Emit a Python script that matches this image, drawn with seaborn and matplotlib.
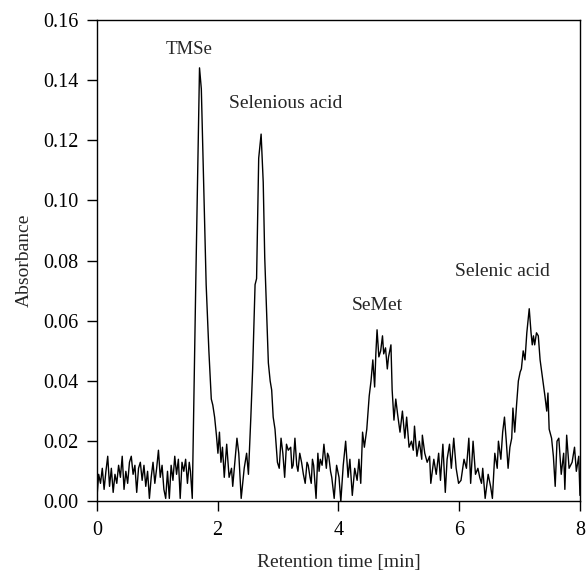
import numpy as np
import pandas as pd
import matplotlib
matplotlib.use('Agg')
import matplotlib.pyplot as plt
import seaborn as sb

# retention time [min] / absorbance in segments
t_base = [0.00, 0.03, 0.06, 0.09, 0.12, 0.15, 0.18, 0.21, 0.24, 0.27, 0.30, 0.33, 0.36, 0.39,
          0.42, 0.45, 0.48, 0.51, 0.54, 0.57, 0.60, 0.63, 0.66, 0.69, 0.72, 0.75, 0.78, 0.81,
          0.84, 0.87, 0.90, 0.93, 0.96, 0.99, 1.02, 1.05, 1.08, 1.11, 1.14, 1.17, 1.20, 1.23,
          1.26, 1.29, 1.32, 1.35, 1.38, 1.41, 1.44, 1.47, 1.50, 1.53, 1.55, 1.58]
a_base = [0.001, 0.009, 0.006, 0.011, 0.004, 0.010, 0.015, 0.005, 0.011, 0.003, 0.009, 0.006, 0.012, 0.008,
          0.015, 0.004, 0.010, 0.006, 0.013, 0.015, 0.009, 0.012, 0.003, 0.011, 0.013, 0.007, 0.012, 0.005,
          0.010, 0.001, 0.008, 0.013, 0.006, 0.011, 0.017, 0.008, 0.012, 0.004, 0.001, 0.010, 0.001, 0.012,
          0.007, 0.015, 0.009, 0.014, 0.001, 0.013, 0.010, 0.014, 0.006, 0.013, 0.010, 0.001]

t_tmse = [1.64, 1.70, 1.73, 1.755, 1.81, 1.855, 1.87, 1.895, 1.92, 1.95, 1.98,
          2.005, 2.03, 2.055, 2.08, 2.11, 2.15, 2.19, 2.23, 2.25, 2.28, 2.32, 2.35, 2.39,
          2.44, 2.48, 2.51, 2.55]
a_tmse = [0.075, 0.144, 0.137, 0.117, 0.072, 0.050, 0.044, 0.034, 0.032, 0.028, 0.022,
          0.016, 0.023, 0.013, 0.018, 0.008, 0.019, 0.008, 0.011, 0.005, 0.012, 0.021, 0.016, 0.001,
          0.011, 0.016, 0.009, 0.028]

t_selenious = [2.58, 2.62, 2.645, 2.68, 2.72, 2.755, 2.78, 2.84, 2.87, 2.895, 2.92, 2.95, 2.99]
a_selenious = [0.044, 0.072, 0.074, 0.114, 0.122, 0.106, 0.081, 0.046, 0.040, 0.037, 0.028, 0.024, 0.013]

t_valley = [3.02, 3.05, 3.08, 3.11, 3.14, 3.17, 3.21, 3.23, 3.25, 3.28, 3.31, 3.33, 3.36, 3.39,
            3.42, 3.45, 3.48, 3.50, 3.53, 3.55, 3.57, 3.59, 3.63, 3.66, 3.68, 3.70, 3.73, 3.76,
            3.80, 3.82, 3.84, 3.87, 3.89, 3.93, 3.97, 4.01, 4.04, 4.08, 4.12, 4.16, 4.19, 4.23,
            4.27, 4.31, 4.34, 4.37]
a_valley = [0.011, 0.021, 0.016, 0.008, 0.019, 0.017, 0.018, 0.011, 0.012, 0.021, 0.012, 0.010, 0.016, 0.013,
            0.009, 0.006, 0.013, 0.012, 0.008, 0.006, 0.014, 0.012, 0.001, 0.016, 0.010, 0.014, 0.012, 0.019,
            0.011, 0.016, 0.015, 0.010, 0.008, 0.001, 0.012, 0.008, 0.000, 0.012, 0.020, 0.008, 0.014, 0.002,
            0.011, 0.007, 0.014, 0.006]

t_semet = [4.40, 4.43, 4.47, 4.51, 4.54, 4.57, 4.60, 4.62, 4.64, 4.67, 4.70, 4.73, 4.75, 4.78,
           4.81, 4.83, 4.87, 4.89, 4.92, 4.95, 4.98, 5.02, 5.06, 5.10, 5.13, 5.17, 5.21, 5.24,
           5.26, 5.30, 5.34, 5.38, 5.39, 5.43, 5.47, 5.51, 5.53, 5.58, 5.62, 5.66, 5.69, 5.73,
           5.77, 5.80, 5.84, 5.87, 5.91, 5.95, 5.99, 6.03, 6.08, 6.12]
a_semet = [0.023, 0.018, 0.024, 0.035, 0.040, 0.047, 0.038, 0.049, 0.057, 0.048, 0.050, 0.055, 0.049, 0.051,
           0.044, 0.048, 0.052, 0.037, 0.027, 0.034, 0.029, 0.023, 0.030, 0.021, 0.028, 0.018, 0.020, 0.017,
           0.025, 0.015, 0.020, 0.014, 0.022, 0.016, 0.013, 0.015, 0.006, 0.014, 0.009, 0.016, 0.007, 0.019,
           0.003, 0.014, 0.019, 0.011, 0.021, 0.011, 0.006, 0.007, 0.014, 0.011]

t_selenic = [6.16, 6.19, 6.23, 6.27, 6.31, 6.34, 6.37, 6.39, 6.43, 6.48, 6.52, 6.55, 6.59, 6.63,
             6.65, 6.69, 6.72, 6.75, 6.78, 6.81, 6.84, 6.87, 6.89, 6.92, 6.95, 6.98, 7.01, 7.03,
             7.06, 7.09, 7.12, 7.16, 7.19, 7.21, 7.23, 7.25, 7.28, 7.31, 7.34, 7.38, 7.42, 7.45,
             7.47, 7.49, 7.53, 7.56, 7.59, 7.62, 7.65, 7.69, 7.73, 7.75, 7.78, 7.82, 7.87, 7.91,
             7.94, 7.98, 8.00]
a_selenic = [0.021, 0.006, 0.020, 0.009, 0.011, 0.008, 0.006, 0.011, 0.001, 0.009, 0.005, 0.001, 0.016, 0.011,
             0.020, 0.014, 0.023, 0.028, 0.020, 0.011, 0.018, 0.021, 0.031, 0.023, 0.032, 0.040, 0.043, 0.044,
             0.050, 0.047, 0.056, 0.064, 0.056, 0.052, 0.055, 0.052, 0.056, 0.055, 0.047, 0.041, 0.035, 0.030,
             0.036, 0.024, 0.021, 0.015, 0.005, 0.020, 0.021, 0.009, 0.016, 0.004, 0.022, 0.011, 0.013, 0.018,
             0.010, 0.015, 0.002]

peak_names = ['TMSe', 'Selenious acid', 'SeMet', 'Selenic acid']
label_t = [1.52, 3.12, 4.65, 6.72]
label_a = [0.150, 0.132, 0.065, 0.0765]
label_size = [13.5, 14, 14, 14]

x_ticks = [0, 2, 4, 6, 8]
y_ticks = [0.00, 0.02, 0.04, 0.06, 0.08, 0.10, 0.12, 0.14, 0.16]


def main():
	sb.set_style('ticks')
	plt.rcParams['font.family'] = ['Liberation Serif', 'DejaVu Serif']

	df = pd.DataFrame({
		'time': t_base + t_tmse + t_selenious + t_valley + t_semet + t_selenic,
		'absorbance': a_base + a_tmse + a_selenious + a_valley + a_semet + a_selenic,
	})

	fig = plt.figure(figsize=(5.87, 5.79), dpi=100)
	ax = fig.add_axes([0.165, 0.134, 0.823, 0.832])
	sb.lineplot(data=df, x='time', y='absorbance', ax=ax,
		sort=False, estimator=None, color='black', linewidth=1.0)

	for name, t, a, fs in zip(peak_names, label_t, label_a, label_size):
		ax.text(t, a, name, ha='center', va='center', fontsize=fs)

	ax.set_xlim(0, 8)
	ax.set_ylim(0, 0.16)
	ax.set_xticks(x_ticks)
	ax.set_yticks(y_ticks)
	ax.set_yticklabels([f'{v:.2f}' for v in y_ticks])
	ax.tick_params(direction='out', length=7, width=1.0, labelsize=14.5, colors='black')
	ax.tick_params(axis='x', pad=7)
	ax.tick_params(axis='y', pad=6)
	for sp in ax.spines.values():
		sp.set_visible(True)
		sp.set_color('black')
		sp.set_linewidth(1.0)
	ax.set_xlabel('Retention time [min]', fontsize=14, labelpad=10)
	ax.set_ylabel('Absorbance', fontsize=14, labelpad=8)

	fig.savefig('out.png', dpi=100)


if __name__ == '__main__':
	main()
